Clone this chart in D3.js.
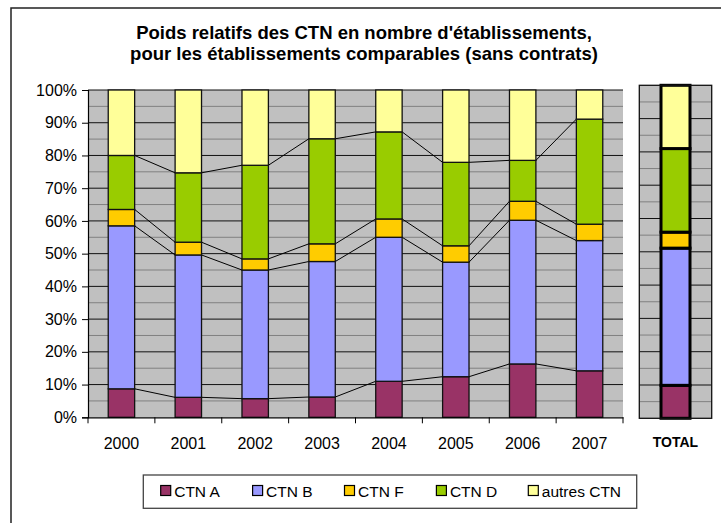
<!DOCTYPE html>
<html>
<head>
<meta charset="utf-8">
<script src="https://cdn.jsdelivr.net/npm/d3@7"></script>
<style>
  body { margin: 0; background: #fff; }
  text { font-family: "Liberation Sans", Arial, sans-serif; fill: #000; }
  .title { font-size: 18.5px; font-weight: bold; text-anchor: middle; }
  .tick-label { font-size: 16px; }
  .legend-label { font-size: 15.5px; }
</style>
</head>
<body>
<svg id="chart" width="721" height="523"></svg>
<script>
// DATA (percent of establishments per year)
const years  = ["2000", "2001", "2002", "2003", "2004", "2005", "2006", "2007"];
const series = ["CTN A", "CTN B", "CTN F", "CTN D", "autres CTN"];
const ctnA   = [8.7, 6.1, 5.7, 6.2, 11.0, 12.4, 16.3, 14.2];
const ctnB   = [49.8, 43.5, 39.3, 41.4, 44.0, 35.0, 43.9, 39.8];
const ctnF   = [5.0, 3.9, 3.4, 5.4, 5.6, 5.0, 5.8, 5.0];
const ctnD   = [16.5, 21.2, 28.6, 32.1, 26.6, 25.5, 12.5, 32.1];
const autres = [20.0, 25.3, 23.0, 14.9, 12.8, 22.1, 21.5, 8.9];
const totalLabel = "TOTAL";
const totalVals  = [9.9, 41.2, 4.8, 25.1, 19.0];
const yTicks = d3.range(0, 101, 10);

const colors = ["#993366", "#9999FF", "#FFCC00", "#99CC00", "#FFFF99"];

// SETUP
const svg = d3.select("#chart");
const plot = { left: 88, right: 623, top: 90, bottom: 417.3 };
const tot  = { left: 639.3, right: 711.7, top: 85.3, bottom: 418.3 };

// outer frame (runs off the picture on right / bottom)
svg.append("rect")
    .attr("x", 11).attr("y", 8)
    .attr("width", 800).attr("height", 600)
    .attr("fill", "none")
    .attr("stroke", "#222")
    .attr("stroke-width", 1.5);

// 1: build table + stack
const table = years.map((y, i) => ({
    year: y,
    "CTN A": ctnA[i], "CTN B": ctnB[i], "CTN F": ctnF[i],
    "CTN D": ctnD[i], "autres CTN": autres[i]
}));
const stacked = d3.stack().keys(series)(table);

const totRow = { year: totalLabel };
series.forEach((s, i) => totRow[s] = totalVals[i]);
const totStacked = d3.stack().keys(series)([totRow]);

// 2: SCALES
const x = d3.scaleBand()
    .domain(years)
    .range([plot.left, plot.right])
    .paddingInner(0)
    .paddingOuter(0);
const barW = x.bandwidth() * 0.395;

const y = d3.scaleLinear()
    .domain([0, 100])
    .range([plot.bottom, plot.top]);

const yTot = d3.scaleLinear()
    .domain([0, 100])
    .range([tot.bottom, tot.top]);

const color = d3.scaleOrdinal().domain(series).range(colors);

// 3: MAIN PLOT BACKGROUND + GRID
svg.append("rect")
    .attr("x", plot.left).attr("y", plot.top)
    .attr("width", plot.right - plot.left)
    .attr("height", plot.bottom - plot.top)
    .attr("fill", "#C0C0C0");

svg.append("g")
    .selectAll("line")
    .data(d3.range(5, 100, 10))
    .enter().append("line")
    .attr("x1", plot.left).attr("x2", plot.right)
    .attr("y1", d => y(d)).attr("y2", d => y(d))
    .attr("stroke", "#808080").attr("stroke-width", 1);

svg.append("g")
    .selectAll("line")
    .data(yTicks.filter(d => d > 0))
    .enter().append("line")
    .attr("x1", plot.left).attr("x2", plot.right)
    .attr("y1", d => y(d)).attr("y2", d => y(d))
    .attr("stroke", "#111").attr("stroke-width", 1);

// 4: SERIES LINES between bars
const lineKeys = stacked.slice(0, 4);
lineKeys.forEach(layer => {
    for (let i = 0; i < years.length - 1; i++) {
        svg.append("line")
            .attr("x1", x(years[i]) + x.bandwidth() / 2 + barW / 2)
            .attr("x2", x(years[i + 1]) + x.bandwidth() / 2 - barW / 2)
            .attr("y1", y(layer[i][1]))
            .attr("y2", y(layer[i + 1][1]))
            .attr("stroke", "#000")
            .attr("stroke-width", 1);
    }
});

// 5: BARS
svg.append("g")
    .selectAll("g")
    .data(stacked)
    .enter().append("g")
    .attr("fill", d => color(d.key))
    .selectAll("rect")
    .data(d => d)
    .enter().append("rect")
    .attr("x", d => x(d.data.year) + x.bandwidth() / 2 - barW / 2)
    .attr("y", d => y(d[1]))
    .attr("width", barW)
    .attr("height", d => y(d[0]) - y(d[1]))
    .attr("stroke", "#111")
    .attr("stroke-width", 1.3);

// 6: AXES
const yAxis = svg.append("g")
    .attr("transform", `translate(${plot.left},0)`)
    .call(d3.axisLeft(y).tickValues(yTicks).tickFormat(d => d + "%").tickSize(6).tickPadding(5));
yAxis.select(".domain").attr("stroke", "#000").attr("stroke-width", 1.2);
yAxis.selectAll(".tick line").attr("stroke", "#000");
yAxis.selectAll("text").attr("class", "tick-label").attr("font-family", null).attr("font-size", null);

const xAxis = svg.append("g")
    .attr("transform", `translate(0,${plot.bottom})`)
    .call(d3.axisBottom(x).tickSize(0).tickPadding(20));
xAxis.select(".domain").attr("stroke", "#000").attr("stroke-width", 1.2);
xAxis.selectAll("text").attr("class", "tick-label").attr("font-family", null).attr("font-size", null);

// x ticks sit on the category boundaries
svg.append("g")
    .selectAll("line")
    .data(d3.range(years.length + 1))
    .enter().append("line")
    .attr("x1", i => plot.left + i * x.step())
    .attr("x2", i => plot.left + i * x.step())
    .attr("y1", plot.bottom).attr("y2", plot.bottom + 6)
    .attr("stroke", "#000");

// 7: TOTAL PANEL
svg.append("rect")
    .attr("x", tot.left).attr("y", tot.top)
    .attr("width", tot.right - tot.left)
    .attr("height", tot.bottom - tot.top)
    .attr("fill", "#C0C0C0");

svg.append("g")
    .selectAll("line")
    .data(d3.range(5, 100, 5))
    .enter().append("line")
    .attr("x1", tot.left).attr("x2", tot.right)
    .attr("y1", d => yTot(d)).attr("y2", d => yTot(d))
    .attr("stroke", d => d % 10 === 0 ? "#111" : "#808080")
    .attr("stroke-width", 1);

const totW = 29;
const totCx = (tot.left + tot.right) / 2;
svg.append("g")
    .selectAll("rect")
    .data(totStacked)
    .enter().append("rect")
    .attr("x", totCx - totW / 2)
    .attr("y", d => yTot(d[0][1]))
    .attr("width", totW)
    .attr("height", d => yTot(d[0][0]) - yTot(d[0][1]))
    .attr("fill", d => color(d.key))
    .attr("stroke", "#000")
    .attr("stroke-width", 3);

svg.append("rect")
    .attr("x", tot.left).attr("y", tot.top)
    .attr("width", tot.right - tot.left)
    .attr("height", tot.bottom - tot.top)
    .attr("fill", "none")
    .attr("stroke", "#111")
    .attr("stroke-width", 1.3);

svg.append("text")
    .attr("x", totCx)
    .attr("y", 447)
    .attr("text-anchor", "middle")
    .style("font-size", "14px")
    .style("font-weight", "bold")
    .text(totalLabel);

// 8: TITLE
svg.append("text").attr("class", "title")
    .attr("x", 364).attr("y", 39)
    .text("Poids relatifs des CTN en nombre d'établissements,");
svg.append("text").attr("class", "title")
    .attr("x", 364).attr("y", 60)
    .text("pour les établissements comparables (sans contrats)");

// 9: LEGEND
svg.append("rect")
    .attr("x", 143.3).attr("y", 475)
    .attr("width", 493.4).attr("height", 33.3)
    .attr("fill", "#fff")
    .attr("stroke", "#444")
    .attr("stroke-width", 1.3);

const legend = svg.append("g")
    .selectAll("g")
    .data(series)
    .enter().append("g")
    .attr("transform", (d, i) => `translate(${160.7 + i * 91.9},485.5)`);

legend.append("rect")
    .attr("width", 10).attr("height", 10)
    .attr("fill", d => color(d))
    .attr("stroke", "#000")
    .attr("stroke-width", 1.2);

legend.append("text")
    .attr("class", "legend-label")
    .attr("x", 13.5)
    .attr("y", 11)
    .text(d => d);
</script>
</body>
</html>
